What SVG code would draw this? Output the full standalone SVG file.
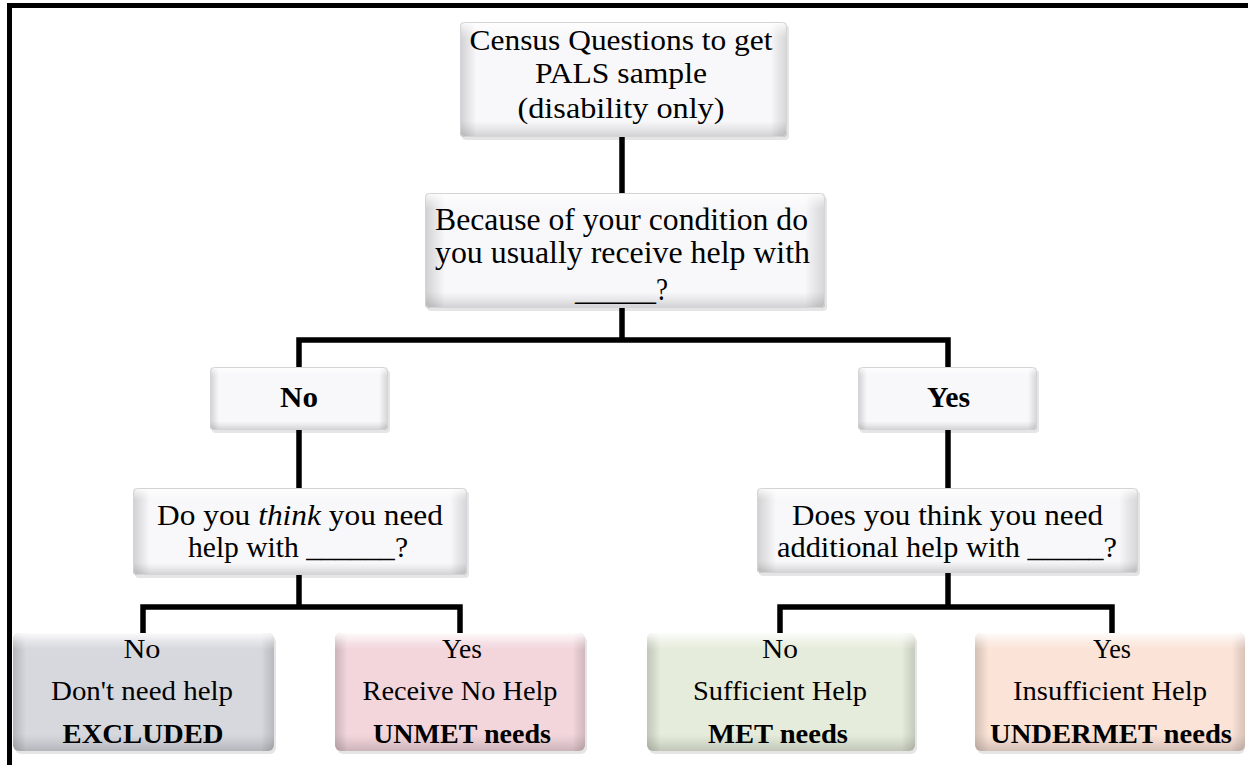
<svg xmlns="http://www.w3.org/2000/svg" width="1248" height="765" viewBox="0 0 1248 765">
<defs>
<linearGradient id="hEdge" x1="0" y1="0" x2="1" y2="0">
<stop offset="0" stop-color="#000" stop-opacity="0.16"/>
<stop offset="0.035" stop-color="#000" stop-opacity="0.05"/>
<stop offset="0.05" stop-color="#000" stop-opacity="0"/>
<stop offset="0.95" stop-color="#000" stop-opacity="0"/>
<stop offset="0.97" stop-color="#000" stop-opacity="0.06"/>
<stop offset="1" stop-color="#000" stop-opacity="0.14"/>
</linearGradient>
<linearGradient id="vEdge" x1="0" y1="0" x2="0" y2="1">
<stop offset="0" stop-color="#fff" stop-opacity="0.9"/>
<stop offset="0.08" stop-color="#fff" stop-opacity="0.3"/>
<stop offset="0.14" stop-color="#fff" stop-opacity="0"/>
<stop offset="0.86" stop-color="#000" stop-opacity="0"/>
<stop offset="0.92" stop-color="#000" stop-opacity="0.06"/>
<stop offset="1" stop-color="#000" stop-opacity="0.16"/>
</linearGradient>
<style>
.sh{fill:#000;opacity:0.1}
.w{fill:#f8f8fa}
.g{fill:#d7d8de}
.p{fill:#f2d6dc}
.gr{fill:#e5ecdb}
.o{fill:#fbe3d7}
.he{fill:url(#hEdge)}
.ve{fill:url(#vEdge)}
.ol{fill:none;stroke:#d4d4d8;stroke-width:1}
text{font-family:"Liberation Serif","Times New Roman",serif;fill:#000;text-anchor:middle}
.t29{font-size:29px}
.t31{font-size:31px}
.t27{font-size:27px}
.b{font-weight:bold}
.conn{fill:none;stroke:#000;stroke-width:5.5;stroke-linejoin:miter}
</style>
</defs>
<rect x="0" y="0" width="1248" height="765" fill="#fff"/>
<path d="M9.5,765 V5.5 H1248" fill="none" stroke="#000" stroke-width="5"/>

<g id="connectors">
<path class="conn" d="M622,137 V193"/>
<path class="conn" d="M622,308 V340"/>
<path class="conn" d="M299,367 V340 H948 V367"/>
<path class="conn" d="M299,430 V488"/>
<path class="conn" d="M948,430 V488"/>
<path class="conn" d="M299,575 V607"/>
<path class="conn" d="M143,633 V607 H460 V633"/>
<path class="conn" d="M948,573 V607"/>
<path class="conn" d="M780,633 V607 H1112 V633"/>
</g>

<g id="census">
<rect class="sh" x="462" y="25" width="327" height="115" rx="4"/>
<rect class="w" x="460" y="22" width="327" height="115" rx="4"/>
<rect class="he" x="460" y="22" width="327" height="115" rx="4"/>
<rect class="ve" x="460" y="22" width="327" height="115" rx="4"/>
<rect class="ol" x="460.5" y="22.5" width="326" height="114" rx="4"/>
<text class="t29" x="621" y="50" textLength="303" lengthAdjust="spacingAndGlyphs">Census Questions to get</text>
<text class="t29" x="621" y="83" textLength="172" lengthAdjust="spacingAndGlyphs">PALS sample</text>
<text class="t29" x="621" y="118" textLength="207" lengthAdjust="spacingAndGlyphs">(disability only)</text>
</g>

<g id="because">
<rect class="sh" x="427" y="196" width="400" height="115" rx="4"/>
<rect class="w" x="425" y="193" width="400" height="115" rx="4"/>
<rect class="he" x="425" y="193" width="400" height="115" rx="4"/>
<rect class="ve" x="425" y="193" width="400" height="115" rx="4"/>
<rect class="ol" x="425.5" y="193.5" width="399" height="114" rx="4"/>
<text class="t31" x="621.5" y="230" textLength="373" lengthAdjust="spacingAndGlyphs">Because of your condition do</text>
<text class="t31" x="622.5" y="263" textLength="375" lengthAdjust="spacingAndGlyphs">you usually receive help with</text>
<text class="t31" x="621.5" y="300" textLength="93" lengthAdjust="spacingAndGlyphs">______?</text>
</g>

<g id="no1">
<rect class="sh" x="212" y="370" width="178" height="63" rx="4"/>
<rect class="w" x="210" y="367" width="178" height="63" rx="4"/>
<rect class="he" x="210" y="367" width="178" height="63" rx="4"/>
<rect class="ve" x="210" y="367" width="178" height="63" rx="4"/>
<rect class="ol" x="210.5" y="367.5" width="177" height="62" rx="4"/>
<text class="t29 b" x="299" y="407" textLength="38" lengthAdjust="spacingAndGlyphs">No</text>
</g>

<g id="yes1">
<rect class="sh" x="860" y="370" width="179" height="63" rx="4"/>
<rect class="w" x="858" y="367" width="179" height="63" rx="4"/>
<rect class="he" x="858" y="367" width="179" height="63" rx="4"/>
<rect class="ve" x="858" y="367" width="179" height="63" rx="4"/>
<rect class="ol" x="858.5" y="367.5" width="178" height="62" rx="4"/>
<text class="t29 b" x="948.5" y="407" textLength="43" lengthAdjust="spacingAndGlyphs">Yes</text>
</g>

<g id="think">
<rect class="sh" x="135" y="491" width="334" height="87" rx="4"/>
<rect class="w" x="133" y="488" width="334" height="87" rx="4"/>
<rect class="he" x="133" y="488" width="334" height="87" rx="4"/>
<rect class="ve" x="133" y="488" width="334" height="87" rx="4"/>
<rect class="ol" x="133.5" y="488.5" width="333" height="86" rx="4"/>
<text class="t29" x="300" y="525" textLength="286" lengthAdjust="spacingAndGlyphs">Do you <tspan font-style="italic">think</tspan> you need</text>
<text class="t29" x="298" y="557" textLength="220" lengthAdjust="spacingAndGlyphs">help with ______?</text>
</g>

<g id="additional">
<rect class="sh" x="759" y="491" width="381" height="85" rx="4"/>
<rect class="w" x="757" y="488" width="381" height="85" rx="4"/>
<rect class="he" x="757" y="488" width="381" height="85" rx="4"/>
<rect class="ve" x="757" y="488" width="381" height="85" rx="4"/>
<rect class="ol" x="757.5" y="488.5" width="380" height="84" rx="4"/>
<text class="t29" x="947.5" y="525" textLength="311" lengthAdjust="spacingAndGlyphs">Does you think you need</text>
<text class="t29" x="947" y="557" textLength="340" lengthAdjust="spacingAndGlyphs">additional help with _____?</text>
</g>

<g id="excluded">
<rect class="sh" x="15" y="636" width="261" height="118" rx="6"/>
<rect class="g" x="13" y="633" width="261" height="118" rx="6"/>
<rect class="he" x="13" y="633" width="261" height="118" rx="6"/>
<rect class="ve" x="13" y="633" width="261" height="118" rx="6"/>
<text class="t27" x="142" y="658" textLength="37" lengthAdjust="spacingAndGlyphs">No</text>
<text class="t27" x="142" y="700" textLength="182" lengthAdjust="spacingAndGlyphs">Don't need help</text>
<text class="t27 b" x="143" y="743" textLength="161" lengthAdjust="spacingAndGlyphs">EXCLUDED</text>
</g>

<g id="unmet">
<rect class="sh" x="337" y="636" width="250" height="118" rx="6"/>
<rect class="p" x="335" y="633" width="250" height="118" rx="6"/>
<rect class="he" x="335" y="633" width="250" height="118" rx="6"/>
<rect class="ve" x="335" y="633" width="250" height="118" rx="6"/>
<text class="t27" x="462" y="658" textLength="40" lengthAdjust="spacingAndGlyphs">Yes</text>
<text class="t27" x="460" y="700" textLength="195" lengthAdjust="spacingAndGlyphs">Receive No Help</text>
<text class="t27 b" x="462" y="743" textLength="178" lengthAdjust="spacingAndGlyphs">UNMET needs</text>
</g>

<g id="met">
<rect class="sh" x="649" y="636" width="268" height="118" rx="6"/>
<rect class="gr" x="647" y="633" width="268" height="118" rx="6"/>
<rect class="he" x="647" y="633" width="268" height="118" rx="6"/>
<rect class="ve" x="647" y="633" width="268" height="118" rx="6"/>
<text class="t27" x="780" y="658" textLength="36" lengthAdjust="spacingAndGlyphs">No</text>
<text class="t27" x="780" y="700" textLength="174" lengthAdjust="spacingAndGlyphs">Sufficient Help</text>
<text class="t27 b" x="778" y="743" textLength="140" lengthAdjust="spacingAndGlyphs">MET needs</text>
</g>

<g id="undermet">
<rect class="sh" x="977" y="636" width="268" height="118" rx="6"/>
<rect class="o" x="975" y="633" width="270" height="118" rx="6"/>
<rect class="he" x="975" y="633" width="270" height="118" rx="6"/>
<rect class="ve" x="975" y="633" width="270" height="118" rx="6"/>
<text class="t27" x="1112" y="658" textLength="38" lengthAdjust="spacingAndGlyphs">Yes</text>
<text class="t27" x="1110" y="700" textLength="194" lengthAdjust="spacingAndGlyphs">Insufficient Help</text>
<text class="t27 b" x="1111" y="743" textLength="242" lengthAdjust="spacingAndGlyphs">UNDERMET needs</text>
</g>
</svg>
